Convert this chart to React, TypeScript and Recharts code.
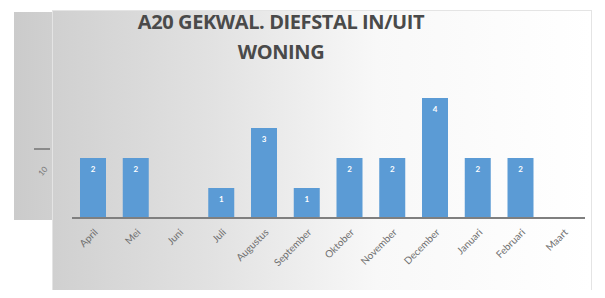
import { Bar, BarChart, LabelList, XAxis, YAxis } from 'recharts';

const months = ['April', 'Mei', 'Juni', 'Juli', 'Augustus', 'September', 'Oktober', 'November', 'December', 'Januari', 'Februari', 'Maart'];
const counts: (number | null)[] = [2, 2, 0, 1, 3, 1, 2, 2, 4, 2, 2, null];

const data = months.map((m, i) => ({ month: m, count: counts[i] }));

function BarValue(props: any) {
  const { x, y, width, height, value } = props;
  if (value === null || value === undefined) return null;
  const ty = height > 0 ? y + 14 : y - 10;
  return (
    <text x={x + width / 2} y={ty} textAnchor="middle" fontSize={8} fontWeight={700} fill="#ffffff">
      {value}
    </text>
  );
}

function MonthTick(props: any) {
  const { x, y, payload } = props;
  return (
    <text
      x={x + 5}
      y={y + 7}
      textAnchor="end"
      fontSize={10}
      fill="#707070"
      transform={`rotate(-45, ${x + 5}, ${y + 7})`}
    >
      {payload.value}
    </text>
  );
}

export default function App() {
  return (
    <div style={{ position: 'relative', width: 605, height: 298, margin: -8, background: '#fff', fontFamily: 'Lato, "Open Sans", sans-serif' }}>
      <div
        style={{
          position: 'absolute', left: 14, top: 12, width: 300, height: 208,
          background: 'linear-gradient(90deg, #cbcbcb 0%, #dadada 40%, rgba(255,255,255,0) 100%)',
        }}
      />
      <div
        style={{
          position: 'absolute', left: 52, top: 10, width: 538, height: 280,
          border: '1px solid #e4e4e4',
          background: 'linear-gradient(90deg, #d0d0d0 0%, #e2e2e2 30%, #f8f8f8 60%, #ffffff 100%)',
        }}
      />
      <div style={{ position: 'absolute', left: 34, top: 148, width: 16, height: 2, background: '#8a8a8a' }} />
      <div style={{ position: 'absolute', left: 38, top: 166, fontSize: 8, color: '#777', transform: 'rotate(-50deg)' }}>10</div>
      <div
        style={{
          position: 'absolute', left: 0, top: 7, width: 562, textAlign: 'center',
          fontSize: 20, fontWeight: 700, color: '#4a4a4a', lineHeight: '30px',
          fontFamily: '"Open Sans", sans-serif', letterSpacing: -0.4,
        }}
      >
        A20 GEKWAL. DIEFSTAL IN/UIT
        <br />
        WONING
      </div>
      <div style={{ position: 'absolute', left: 0, top: 0 }}>
        <BarChart width={605} height={298} data={data} margin={{ top: 98, right: 20, left: 72, bottom: 0 }}>
          <YAxis hide domain={[0, 4]} />
          <XAxis
            dataKey="month"
            interval={0}
            height={80}
            tickLine={false}
            axisLine={{ stroke: '#7f7f7f', strokeWidth: 2 }}
            tick={<MonthTick />}
          />
          <Bar dataKey="count" fill="#5b9bd5" barSize={26} isAnimationActive={false}>
            <LabelList dataKey="count" content={<BarValue />} />
          </Bar>
        </BarChart>
      </div>
    </div>
  );
}
